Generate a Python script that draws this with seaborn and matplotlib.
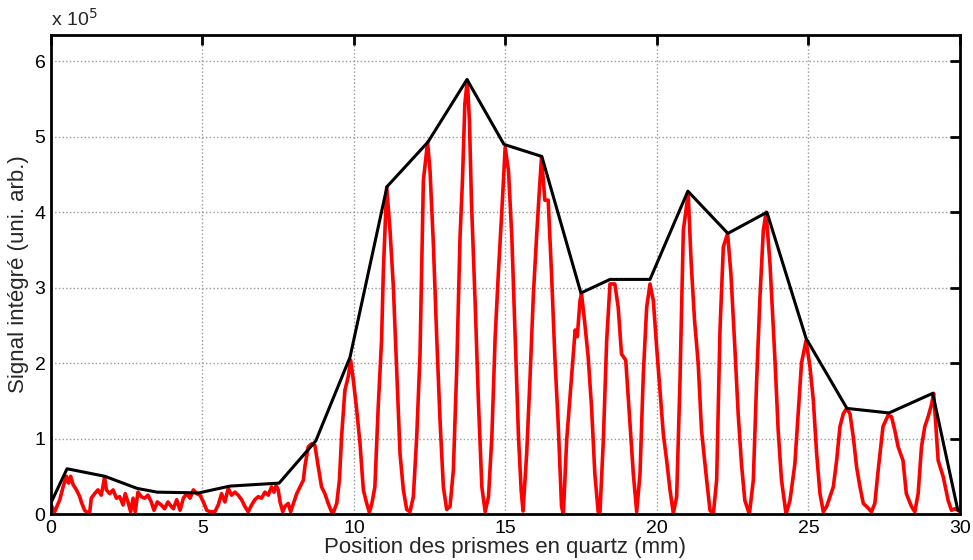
import pandas as pd
import matplotlib
matplotlib.use("Agg")
import matplotlib.pyplot as plt
import seaborn as sns

""" DATA (signal in units of 1e5) """

# measured signal (red)
signal_x = [0.0, 0.12, 0.29, 0.4, 0.51, 0.58, 0.65, 0.73, 0.84, 0.95, 1.0, 1.11, 1.2, 1.28, 1.33,
            1.44, 1.55, 1.66, 1.77, 1.83, 1.94, 2.05, 2.16, 2.27, 2.38, 2.45, 2.54, 2.63, 2.71, 2.78,
            2.87, 2.98, 3.09, 3.2, 3.31, 3.4, 3.51, 3.64, 3.75, 3.86, 3.97, 4.04, 4.15, 4.26, 4.37,
            4.48, 4.59, 4.7, 4.81, 4.92, 5.03, 5.14, 5.25, 5.41, 5.52, 5.63, 5.74, 5.85, 5.96, 6.07,
            6.18, 6.29, 6.4, 6.51, 6.62, 6.73, 6.84, 6.95, 7.06, 7.17, 7.28, 7.36, 7.43, 7.5, 7.56,
            7.65, 7.72, 7.83, 7.91, 8.0, 8.11, 8.22, 8.33, 8.38, 8.49, 8.6, 8.71, 8.82, 8.93, 9.04,
            9.15, 9.26, 9.32, 9.43, 9.52, 9.59, 9.7, 9.81, 9.89, 9.98, 10.08, 10.2, 10.31, 10.42, 10.51,
            10.59, 10.69, 10.8, 10.91, 10.97, 11.08, 11.19, 11.3, 11.41, 11.52, 11.63, 11.74, 11.85, 11.96,
            12.07, 12.18, 12.29, 12.43, 12.51, 12.62, 12.73, 12.84, 12.95, 13.06, 13.17, 13.28, 13.39, 13.5,
            13.58, 13.66, 13.74, 13.81, 13.88, 14.0, 14.11, 14.22, 14.33, 14.44, 14.55, 14.66, 14.77, 14.88,
            14.99, 15.1, 15.21, 15.32, 15.43, 15.52, 15.58, 15.7, 15.81, 15.92, 16.03, 16.12, 16.19, 16.3,
            16.41, 16.52, 16.63, 16.74, 16.85, 16.91, 17.02, 17.19, 17.3, 17.37, 17.46, 17.51, 17.62, 17.73,
            17.84, 17.95, 18.06, 18.12, 18.23, 18.34, 18.45, 18.61, 18.72, 18.83, 18.97, 19.11, 19.22, 19.33,
            19.44, 19.55, 19.66, 19.77, 19.88, 19.99, 20.1, 20.21, 20.32, 20.43, 20.54, 20.65, 20.76, 20.87,
            21.03, 21.13, 21.24, 21.36, 21.47, 21.64, 21.75, 21.86, 21.97, 22.08, 22.19, 22.33, 22.44, 22.57,
            22.68, 22.79, 22.9, 23.05, 23.18, 23.29, 23.4, 23.51, 23.6, 23.73, 23.9, 24.0, 24.11, 24.26,
            24.39, 24.55, 24.66, 24.77, 24.92, 25.05, 25.16, 25.27, 25.38, 25.49, 25.6, 25.71, 25.82, 25.93,
            26.04, 26.15, 26.26, 26.37, 26.48, 26.59, 26.7, 26.81, 26.92, 27.08, 27.19, 27.3, 27.46, 27.63,
            27.74, 27.85, 27.96, 28.12, 28.23, 28.4, 28.51, 28.62, 28.73, 28.84, 28.95, 29.06, 29.13, 29.2,
            29.28, 29.45, 29.61, 29.72, 29.83, 29.94, 30.0]
signal_y = [0.12, 0.03, 0.19, 0.36, 0.5, 0.41, 0.5, 0.39, 0.32, 0.23, 0.16, 0.05, 0.02, 0.03, 0.21,
            0.27, 0.32, 0.25, 0.49, 0.32, 0.27, 0.32, 0.21, 0.23, 0.12, 0.27, 0.16, 0.03, 0.21, 0.03,
            0.29, 0.23, 0.21, 0.25, 0.16, 0.05, 0.16, 0.12, 0.07, 0.16, 0.1, 0.07, 0.19, 0.05, 0.21,
            0.27, 0.21, 0.32, 0.27, 0.25, 0.16, 0.05, 0.03, 0.03, 0.12, 0.27, 0.16, 0.34, 0.25, 0.29,
            0.25, 0.19, 0.1, 0.03, 0.12, 0.19, 0.23, 0.21, 0.29, 0.25, 0.36, 0.29, 0.38, 0.32, 0.16,
            0.03, 0.1, 0.14, 0.03, 0.14, 0.27, 0.36, 0.45, 0.63, 0.89, 0.93, 0.91, 0.63, 0.36, 0.27,
            0.14, 0.03, 0.02, 0.14, 0.45, 1.02, 1.64, 1.82, 2.04, 1.77, 1.42, 0.93, 0.32, 0.14, 0.02,
            0.14, 0.36, 1.42, 2.3, 3.23, 4.33, 3.76, 3.01, 1.91, 0.8, 0.32, 0.06, 0.03, 0.23,
            1.02, 2.12, 4.42, 4.93, 4.55, 3.58, 2.35, 1.24, 0.36, 0.06, 0.1, 0.58, 1.91, 3.67,
            4.42, 5.44, 5.75, 5.22, 4.11, 2.79, 1.46, 0.36, 0.03, 0.23, 1.02, 2.35, 3.23, 4.02,
            4.86, 4.55, 3.67, 2.35, 1.02, 0.3, 0.04, 0.8, 1.8, 2.9, 3.7, 4.3, 4.73, 4.16,
            4.16, 3.19, 2.08, 1.2, 0.1, 0.0, 0.98, 1.86, 2.44, 2.35, 2.83, 2.92, 2.52, 2.08,
            1.42, 0.53, 0.03, 0.03, 0.98, 2.3, 3.05, 3.05, 2.74, 2.12, 2.04, 1.2, 0.53, 0.03,
            0.53, 1.86, 2.74, 3.05, 2.83, 2.21, 1.64, 1.06, 0.71, 0.32, 0.01, 0.23, 1.77, 3.76,
            4.25, 3.32, 2.57, 2.0, 1.11, 0.45, 0.05, 0.0, 0.45, 2.44, 3.54, 3.72, 3.19, 2.21,
            1.33, 0.66, 0.18, 0.0, 0.45, 1.77, 2.88, 3.76, 4.0, 3.32, 2.0, 1.11, 0.45, 0.0,
            0.18, 0.66, 1.33, 2.0, 2.3, 1.95, 1.51, 0.8, 0.27, 0.03, 0.1, 0.23, 0.36, 0.71,
            1.16, 1.33, 1.4, 1.33, 1.02, 0.62, 0.36, 0.14, 0.1, 0.03, 0.14, 0.58, 1.16, 1.31,
            1.29, 1.11, 0.89, 0.71, 0.27, 0.1, 0.03, 0.27, 0.89, 1.16, 1.29, 1.45, 1.6, 1.2,
            0.71, 0.49, 0.18, 0.05, 0.07, 0.05, 0.03]

# upper envelope through the fringe maxima (black)
envelope_x = [0.0, 0.53, 1.78, 2.84, 3.5, 4.88, 5.9, 7.53, 8.74, 9.87, 11.09, 12.44, 13.73,
              14.95, 16.2, 17.49, 18.45, 19.77, 21.02, 22.34, 23.63, 24.92, 26.27, 27.66, 29.1, 29.93]
envelope_y = [0.15, 0.6, 0.5, 0.34, 0.29, 0.28, 0.37, 0.41, 0.97, 2.08, 4.34, 4.93, 5.76,
              4.9, 4.74, 2.93, 3.11, 3.11, 4.28, 3.72, 4.0, 2.33, 1.4, 1.34, 1.6, 0.05]

x_ticks = [0, 5, 10, 15, 20, 25, 30]
y_ticks = [0, 1, 2, 3, 4, 5, 6]

sig = pd.DataFrame({'x': signal_x, 'y': signal_y})
env = pd.DataFrame({'x': envelope_x, 'y': envelope_y})

""" FIGURE """
sns.set_style("white")
plt.rcParams["font.family"] = ["Liberation Sans", "DejaVu Sans"]

fig = plt.figure(figsize=(9.73, 5.6), dpi=100)
ax = fig.add_axes([0.0524, 0.0821, 0.9342, 0.8554])

sns.lineplot(data=sig, x='x', y='y', ax=ax, color='#ff0000', linewidth=2.6,
             estimator=None, sort=False)
sns.lineplot(data=env, x='x', y='y', ax=ax, color='black', linewidth=2.2,
             estimator=None, sort=False)

ax.set_xlim(0, 30)
ax.set_ylim(0, 6.35)
ax.set_xticks(x_ticks)
ax.set_yticks(y_ticks)
ax.grid(True, linestyle=':', color='#999999', linewidth=1.0)
ax.set_axisbelow(True)

for s in ax.spines.values():
    s.set_visible(True)
    s.set_color('black')
    s.set_linewidth(2.0)

ax.tick_params(direction='in', length=7, width=2, top=True, right=True,
               labelsize=14, colors='black', pad=4)

ax.set_xlabel('Position des prismes en quartz (mm)', fontsize=16, labelpad=0)
ax.set_ylabel('Signal intégré (uni. arb.)', fontsize=16, labelpad=4)
ax.text(0.0, 1.01, r'x 10$^5$', transform=ax.transAxes, fontsize=14,
        ha='left', va='bottom')

fig.savefig('out.png', dpi=100)
